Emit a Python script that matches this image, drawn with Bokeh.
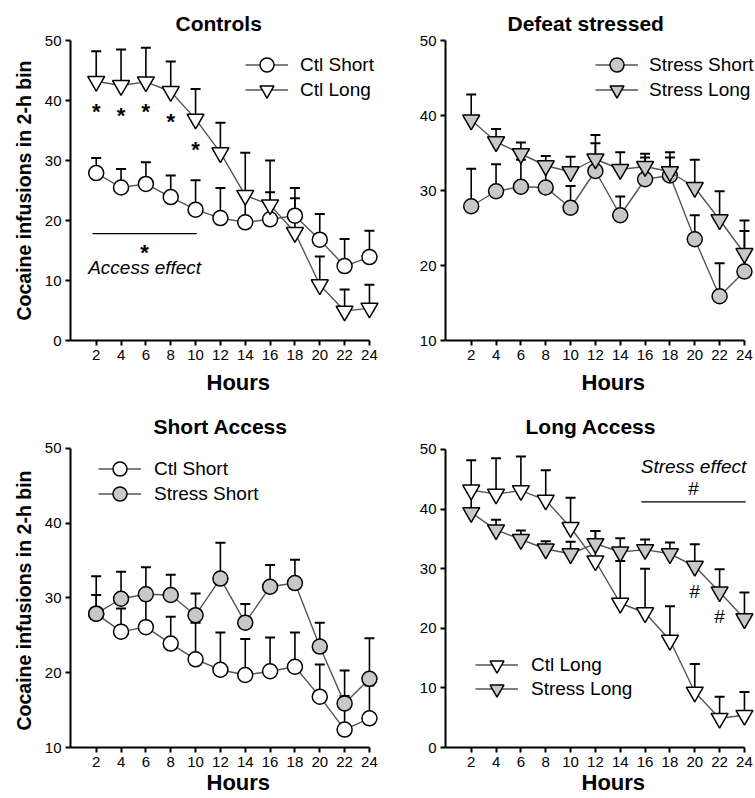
from bokeh.plotting import figure
from bokeh.layouts import gridplot
from bokeh.models import Legend, LegendItem, FixedTicker, LinearAxis, Range1d, Title
from bokeh.core.properties import value
from bokeh.embed import file_html
from bokeh.resources import INLINE

# ---------------- data ----------------
hours = [2, 4, 6, 8, 10, 12, 14, 16, 18, 20, 22, 24]

ctl_short = [27.9, 25.5, 26.1, 23.9, 21.8, 20.4, 19.7, 20.2, 20.8, 16.8, 12.4, 13.9]
ctl_short_top = [30.4, 28.6, 29.7, 27.5, 26.7, 25.4, 24.5, 24.7, 25.4, 21.1, 16.9, 18.3]

ctl_long = [43.2, 42.5, 43.1, 41.5, 36.9, 31.3, 24.2, 22.6, 18.0, 9.3, 4.9, 5.4]
ctl_long_top = [48.2, 48.5, 48.8, 46.5, 41.9, 36.3, 31.3, 30.0, 23.7, 14.0, 8.5, 9.3]

stress_short = [27.9, 29.9, 30.5, 30.4, 27.7, 32.6, 26.7, 31.5, 32.0, 23.5, 15.9, 19.2]
stress_short_top = [32.9, 33.5, 34.1, 33.1, 30.6, 37.4, 29.2, 34.4, 35.1, 26.7, 20.3, 24.6]

stress_long = [39.4, 36.5, 34.9, 33.3, 32.5, 34.2, 32.8, 33.2, 32.5, 30.4, 26.1, 21.6]
stress_long_top = [42.8, 38.2, 36.4, 34.6, 34.5, 36.3, 35.1, 34.9, 34.4, 34.1, 29.9, 26.0]

access_sig = ["*", "*", "*", "*", "*", "", "", "", "", "", "", ""]
stress_sig = ["", "", "", "", "", "", "", "", "", "#", "#", ""]

access_span = [1.7, 10.1]
access_line_y = 17.8
access_star_y = 15.3
access_text_y = 12.2
stress_span = [15.7, 24.1]
stress_line_y = 41.2
stress_hash_y = 43.5
stress_text_y = 47.1

y_ticks_0 = [0, 10, 20, 30, 40, 50]
y_ticks_10 = [10, 20, 30, 40, 50]

FONT = "Liberation Sans"
X0 = -0.07
LINE_COL = "#555555"
GRAY = "#c8c8c8"


def make_panel(title, title_offset, x_end, y0, y1, yticks, w, h, mbl, mbt, mbb,
               hours_standoff, ylabel_offset=None):
    p = figure(width=w, height=h, x_range=Range1d(X0, x_end), y_range=Range1d(y0, y1),
               output_backend="svg", toolbar_location=None,
               x_axis_location=None, y_axis_location=None,
               min_border_left=mbl, min_border_right=0,
               min_border_top=mbt, min_border_bottom=mbb,
               title=title)
    p.outline_line_color = None
    p.grid.visible = False
    p.background_fill_color = "white"
    p.title.align = "left"
    p.title.offset = title_offset
    p.title.standoff = 0
    p.title.text_font = FONT
    p.title.text_font_style = "bold"
    p.title.text_font_size = "21px"
    p.title.text_color = "black"

    xa = LinearAxis(ticker=FixedTicker(ticks=hours), bounds=(X0, 24))
    ya = LinearAxis(ticker=FixedTicker(ticks=yticks), bounds=(y0, 50))
    for ax in (xa, ya):
        ax.axis_line_width = 2
        ax.axis_line_color = "black"
        ax.major_tick_line_width = 2
        ax.major_tick_line_color = "black"
        ax.major_tick_out = 5
        ax.major_tick_in = 0
        ax.minor_tick_line_color = None
        ax.major_label_text_font = FONT
        ax.major_label_text_font_size = "15px"
        ax.major_label_text_color = "black"
        ax.major_label_standoff = 4
    p.add_layout(xa, "below")
    p.add_layout(ya, "left")

    xt = Title(text="Hours", align="left", offset=136, vertical_align="top",
               standoff=hours_standoff, text_font=FONT, text_font_style="bold",
               text_font_size="22px", text_color="black")
    p.add_layout(xt, "below")
    if ylabel_offset is not None:
        yt = Title(text="Cocaine infusions in 2-h bin", align="left", offset=ylabel_offset,
                   vertical_align="bottom", standoff=14, text_font=FONT,
                   text_font_style="bold", text_font_size="19.5px", text_color="black")
        p.add_layout(yt, "left")
    return p


def make_legend(item, loc, standoff):
    leg = Legend(items=[item], location=loc)
    leg.glyph_width = 43
    leg.glyph_height = 35
    leg.label_standoff = standoff
    leg.padding = 0
    leg.margin = 0
    leg.border_line_color = None
    leg.background_fill_alpha = 0
    leg.label_text_font = FONT
    leg.label_text_font_size = "19px"
    leg.label_text_color = "black"
    return leg


def draw_pair(p, s1, s2, legend_x, legend_ys, standoff):
    # s = (label, mean, top, marker, fill, size)
    for lab, m, t, mk, fc, sz in (s1, s2):
        p.segment(x0=hours, y0=m, x1=hours, y1=t, line_color="black", line_width=1.6)
        p.scatter(x=hours, y=t, marker="dash", size=10, line_color="black", line_width=2)
    for (lab, m, t, mk, fc, sz), ly in zip((s1, s2), legend_ys):
        lr = p.line(x=hours, y=m, line_color=LINE_COL, line_width=1.4)
        mr = p.scatter(x=hours, y=m, marker=mk, size=sz, fill_color=fc,
                       line_color="black", line_width=1.5)
        p.add_layout(make_legend(LegendItem(label=lab, renderers=[lr, mr]),
                                 (legend_x, ly), standoff))


W1, W2 = 381, 374
H1, H2 = 403, 395

# Controls
p1 = make_panel("Controls", 105, 24.97, 0, 51.0, y_ticks_0, W1, H1, 70, 34, 63, 14,
                ylabel_offset=20)
draw_pair(p1,
          ("Ctl Short", ctl_short, ctl_short_top, "circle", "white", 15),
          ("Ctl Long", ctl_long, ctl_long_top, "inverted_triangle", "white", 17),
          175, (258, 233), 12)
p1.text(x=hours, y=ctl_long, text=access_sig, y_offset=30, text_align="center",
        text_baseline="middle", text_font=value(FONT), text_font_size="22px",
        text_font_style="bold", text_color="black")
p1.segment(x0=[access_span[0]], y0=[access_line_y], x1=[access_span[1]], y1=[access_line_y],
           line_color="black", line_width=1.2)
amid = (access_span[0] + access_span[1]) / 2
p1.text(x=[amid], y=[access_star_y], text=["*"], text_align="center", text_baseline="middle",
        y_offset=4, text_font=value(FONT), text_font_size="22px", text_font_style="bold",
        text_color="black")
p1.text(x=[amid], y=[access_text_y], text=["Access effect"], text_align="center",
        text_baseline="middle", text_font=value(FONT), text_font_size="19px",
        text_font_style="italic", text_color="black")

# Defeat stressed
p2 = make_panel("Defeat stressed", 62, 24.89, 10, 50.8, y_ticks_10, W2, H1, 64, 34, 63, 14)
draw_pair(p2,
          ("Stress Short", stress_short, stress_short_top, "circle", GRAY, 15),
          ("Stress Long", stress_long, stress_long_top, "inverted_triangle", GRAY, 17),
          150, (258, 233), 11)

# Short Access
p3 = make_panel("Short Access", 83, 24.97, 10, 51.47, y_ticks_10, W1, H2, 70, 34, 51, 0,
                ylabel_offset=17)
draw_pair(p3,
          ("Ctl Short", ctl_short, ctl_short_top, "circle", "white", 15),
          ("Stress Short", stress_short, stress_short_top, "circle", GRAY, 15),
          28, (261, 236), 13)

# Long Access
p4 = make_panel("Long Access", 80, 24.89, 0, 52.0, y_ticks_0, W2, H2, 64, 34, 51, 0)
draw_pair(p4,
          ("Ctl Long", ctl_long, ctl_long_top, "inverted_triangle", "white", 17),
          ("Stress Long", stress_long, stress_long_top, "inverted_triangle", GRAY, 17),
          30, (65, 41), 13)
p4.text(x=hours, y=stress_long, text=stress_sig, y_offset=25, text_align="center",
        text_baseline="middle", text_font=value(FONT), text_font_size="19px",
        text_color="black")
p4.segment(x0=[stress_span[0]], y0=[stress_line_y], x1=[stress_span[1]], y1=[stress_line_y],
           line_color="black", line_width=1.2)
smid = (stress_span[0] + stress_span[1]) / 2
p4.text(x=[smid], y=[stress_hash_y], text=["#"], text_align="center", text_baseline="middle",
        text_font=value(FONT), text_font_size="19px", text_color="black")
p4.text(x=[smid], y=[stress_text_y], text=["Stress effect"], text_align="center",
        text_baseline="middle", text_font=value(FONT), text_font_size="19px",
        text_font_style="italic", text_color="black")

grid = gridplot([[p1, p2], [p3, p4]], toolbar_location=None)
open("out.html", "w").write(file_html(grid, INLINE))
